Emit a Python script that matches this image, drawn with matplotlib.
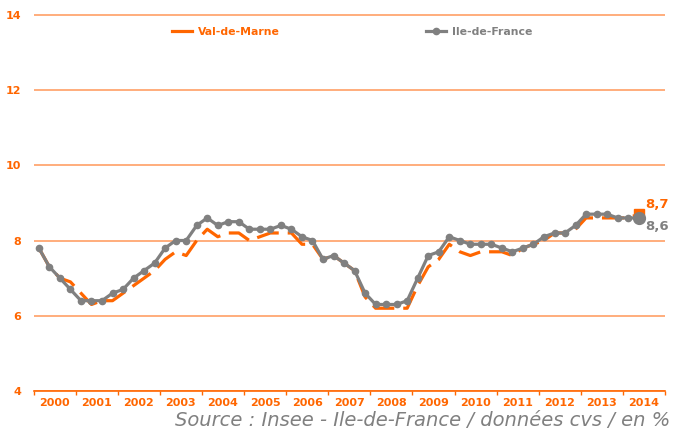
import matplotlib
matplotlib.use("Agg")
import matplotlib.pyplot as plt
from matplotlib.lines import Line2D
import numpy as np

# quarterly values, 2000 Q1 -> 2014 Q2
YEARS = [str(y) for y in range(2000, 2015)]
VAL_DE_MARNE = [
    7.8, 7.3, 7.0, 6.9, 6.6, 6.3, 6.4, 6.4, 6.6, 6.8, 7.0, 7.2, 7.5, 7.7, 7.6,
    8.0, 8.3, 8.1, 8.2, 8.2, 8.0, 8.1, 8.2, 8.2, 8.2, 7.9, 7.9, 7.5, 7.6, 7.4,
    7.2, 6.5, 6.2, 6.2, 6.2, 6.2, 6.8, 7.3, 7.5, 7.9, 7.7, 7.6, 7.7, 7.7, 7.7,
    7.6, 7.8, 7.9, 8.0, 8.2, 8.2, 8.3, 8.6, 8.6, 8.6, 8.6, 8.6, 8.7,
]
ILE_DE_FRANCE = [
    7.8, 7.3, 7.0, 6.7, 6.4, 6.4, 6.4, 6.6, 6.7, 7.0, 7.2, 7.4, 7.8, 8.0, 8.0,
    8.4, 8.6, 8.4, 8.5, 8.5, 8.3, 8.3, 8.3, 8.4, 8.3, 8.1, 8.0, 7.5, 7.6, 7.4,
    7.2, 6.6, 6.3, 6.3, 6.3, 6.4, 7.0, 7.6, 7.7, 8.1, 8.0, 7.9, 7.9, 7.9, 7.8,
    7.7, 7.8, 7.9, 8.1, 8.2, 8.2, 8.4, 8.7, 8.7, 8.7, 8.6, 8.6, 8.6,
]
Y_TICKS = [4, 6, 8, 10, 12, 14]

ORANGE = "#FF6600"
GRID = "#FF9F66"
GRAY = "#808080"

W, H = 673, 434
fig = plt.figure(figsize=(W / 100, H / 100), dpi=100)
ax = fig.add_axes([33.6 / W, 1 - 391 / H, (665 - 33.6) / W, (391 - 14) / H])

x = np.arange(len(ILE_DE_FRANCE))
ax.plot(x, VAL_DE_MARNE, color=ORANGE, lw=2.3, dashes=(7, 2.8), zorder=3)
ax.plot(x, ILE_DE_FRANCE, color=GRAY, lw=2.3, marker="o", ms=4.5, zorder=4)
ax.plot(x[-1], VAL_DE_MARNE[-1], marker="s", ms=7, color=ORANGE, zorder=3)
ax.plot(x[-1], ILE_DE_FRANCE[-1], marker="o", ms=8.5, color=GRAY, zorder=5)

ax.annotate(f"{VAL_DE_MARNE[-1]:.1f}".replace(".", ","), (x[-1], VAL_DE_MARNE[-1]),
            xytext=(5, 7), textcoords="offset points", ha="left", va="center",
            color=ORANGE, fontsize=9.5, fontweight="bold")
ax.annotate(f"{ILE_DE_FRANCE[-1]:.1f}".replace(".", ","), (x[-1], ILE_DE_FRANCE[-1]),
            xytext=(5, -6.5), textcoords="offset points", ha="left", va="center",
            color=GRAY, fontsize=9.5, fontweight="bold")

ax.set_xlim(-0.5, 59.5)
ax.set_ylim(4, 14.02)
ax.set_yticks(Y_TICKS)
ax.set_yticklabels([str(v) for v in Y_TICKS], color=ORANGE, fontsize=8, fontweight="bold")
ax.tick_params(axis="y", length=0, pad=9)
ax.yaxis.grid(True, color=GRID, lw=1.2)
ax.set_axisbelow(True)

ax.set_xticks([1.5 + 4 * k for k in range(len(YEARS))])
ax.set_xticklabels(YEARS, color=ORANGE, fontsize=8, fontweight="bold")
ax.set_xticks([-0.5 + 4 * k for k in range(len(YEARS) + 1)], minor=True)
ax.tick_params(axis="x", which="major", length=0, pad=5)
ax.tick_params(axis="x", which="minor", length=3, width=1, color=ORANGE)

for side in ["top", "right", "left"]:
    ax.spines[side].set_visible(False)
ax.spines["bottom"].set_color(ORANGE)
ax.spines["bottom"].set_linewidth(1.2)

handles = [
    Line2D([], [], color=ORANGE, lw=2.3),
    Line2D([], [], color=GRAY, lw=2.3, marker="o", ms=4.5),
]
leg = fig.legend(handles, ["Val-de-Marne", "Ile-de-France"], ncol=2, loc="center",
                 bbox_to_anchor=(352 / W, 1 - 32 / H), frameon=False,
                 prop={"size": 7.8, "weight": "bold"}, handlelength=1.9,
                 handletextpad=0.5, columnspacing=13.5)
leg.get_texts()[0].set_color(ORANGE)
leg.get_texts()[1].set_color(GRAY)

fig.text(670 / W, 1 - 421 / H, "Source : Insee - Ile-de-France / données cvs / en %",
         ha="right", va="center", style="italic", color=GRAY, fontsize=14)

fig.savefig("out.png", dpi=100)
